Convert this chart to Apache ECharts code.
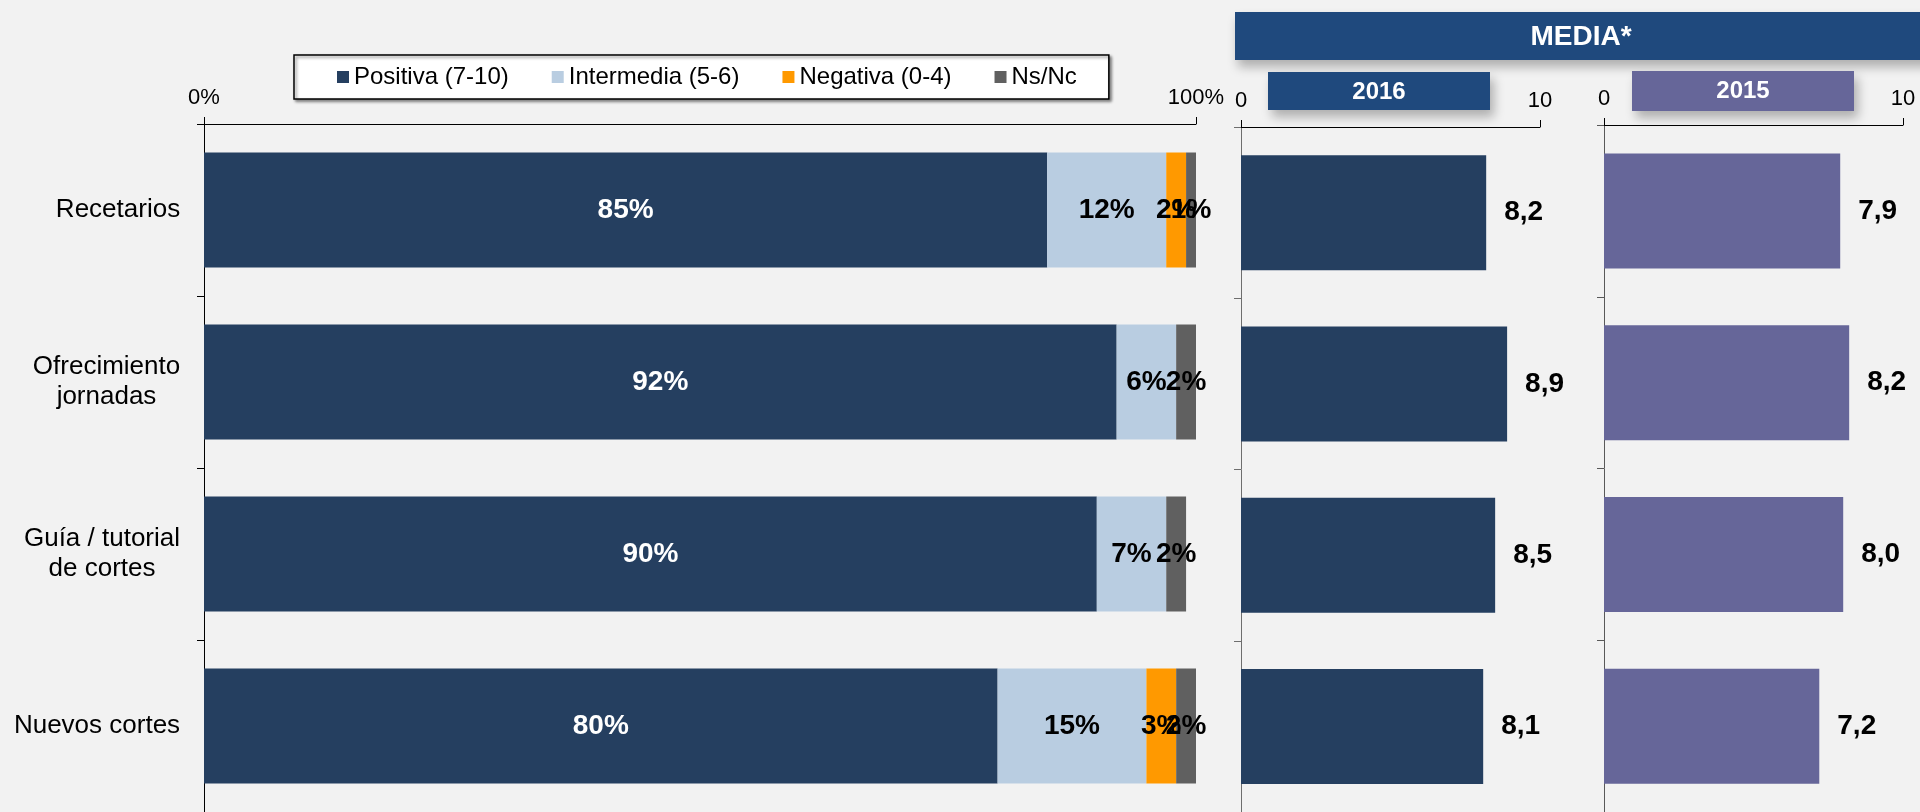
<!DOCTYPE html>
<html>
<head>
<meta charset="utf-8">
<title>Valoración de servicios</title>
<script src="https://cdn.jsdelivr.net/npm/echarts@6/dist/echarts.min.js"></script>
<style>
  html, body { margin: 0; padding: 0; background: #F2F2F2; }
  #chart { width: 1920px; height: 812px; }
</style>
</head>
<body>
<div id="chart"></div>
<script>
// Service categories, top to bottom
const categories = ['Recetarios', 'Ofrecimiento\njornadas', 'Guía / tutorial\nde cortes', 'Nuevos cortes'];

// Rating distribution (%)
const positiva = [85, 92, 90, 80];
const intermedia = [12, 6, 7, 15];
const negativa = [2, 0, 0, 3];
const nsnc = [1, 2, 2, 2];

// Mean score (0-10)
const media2016 = [8.2, 8.9, 8.5, 8.1];
const media2015 = [7.9, 8.2, 8.0, 7.2];

// Legend / series names and axis tick labels
const seriesNames = ['Positiva (7-10)', 'Intermedia (5-6)', 'Negativa (0-4)', 'Ns/Nc'];
const pctTicks = { min: 0, max: 100, step: 100 };
const scoreTicks = { min: 0, max: 10, step: 10 };

const FONT = '"Liberation Sans", Arial, sans-serif';
const colors = {
  positiva: '#253F60',
  intermedia: '#B9CDE1',
  negativa: '#FF9900',
  nsnc: '#606060',
  y2016: '#253F60',
  y2015: '#666699',
  header: '#1F497D'
};

// Multi-line category labels: block right-aligned, lines centred within the block
const catFontSize = 26;
const measure = document.createElement('canvas').getContext('2d');
measure.font = catFontSize + 'px ' + FONT;
const catRich = {};
categories.forEach((c, i) => {
  const w = Math.max.apply(null, c.split('\n').map(s => measure.measureText(s).width));
  catRich['c' + i] = {
    width: Math.ceil(w) + 1, align: 'center', fontSize: catFontSize,
    fontFamily: FONT, color: '#000', lineHeight: 30
  };
});

const chart = echarts.init(document.getElementById('chart'), null, { renderer: 'canvas' });

const pctLabel = (color) => ({
  show: true,
  position: 'inside',
  color: color,
  fontSize: 28,
  fontWeight: 'bold',
  fontFamily: FONT,
  formatter: p => (p.value ? p.value + '%' : '')
});

const scoreLabel = {
  show: true,
  position: 'right',
  distance: 18,
  color: '#000',
  fontSize: 28,
  fontWeight: 'bold',
  fontFamily: FONT,
  formatter: p => p.value.toFixed(1).replace('.', ',')
};

function valueAxis(gridIndex, ticks, suffix) {
  return {
    type: 'value',
    gridIndex: gridIndex,
    position: 'top',
    min: ticks.min,
    max: ticks.max,
    interval: ticks.step,
    axisLine: { show: true, lineStyle: { color: '#000', width: 1 } },
    axisTick: { show: true, length: 7, lineStyle: { color: '#000' } },
    splitLine: { show: false },
    axisLabel: {
      margin: 15,
      fontSize: 22,
      fontFamily: FONT,
      color: '#000',
      formatter: v => v + suffix
    }
  };
}

function catAxis(gridIndex, showLabels, lineColor) {
  return {
    type: 'category',
    gridIndex: gridIndex,
    inverse: true,
    data: categories,
    axisLine: { show: true, lineStyle: { color: lineColor, width: 1 } },
    axisTick: { show: true, length: 7, lineStyle: { color: lineColor } },
    axisLabel: showLabels ? {
      show: true,
      margin: 23,
      align: 'right',
      fontSize: catFontSize,
      fontFamily: FONT,
      color: '#000',
      lineHeight: 30,
      rich: catRich,
      formatter: (value, index) => value.split('\n').map(s => '{c' + index + '|' + s + '}').join('\n')
    } : { show: false }
  };
}

const BAR_H = 115;

const option = {
  backgroundColor: '#F2F2F2',
  animation: false,
  textStyle: { fontFamily: FONT },
  legend: {
    data: seriesNames,
    left: 294,
    top: 55,
    icon: 'rect',
    itemWidth: 12,
    itemHeight: 12,
    itemGap: 43,
    padding: [10, 32, 10, 43],
    backgroundColor: '#FFFFFF',
    borderColor: '#000',
    borderWidth: 1.5,
    borderRadius: 0,
    shadowColor: 'rgba(0,0,0,0.45)',
    shadowBlur: 3,
    shadowOffsetX: 2,
    shadowOffsetY: 2,
    selectedMode: false,
    textStyle: { fontSize: 24, fontFamily: FONT, color: '#000', lineHeight: 24 }
  },
  grid: [
    { left: 204, right: 1920 - 1196, top: 124, bottom: -4, containLabel: false },
    { left: 1241, right: 1920 - 1540, top: 127, bottom: -3, containLabel: false },
    { left: 1604, right: 1920 - 1903, top: 125, bottom: 0, containLabel: false }
  ],
  xAxis: [
    valueAxis(0, pctTicks, '%'),
    valueAxis(1, scoreTicks, ''),
    valueAxis(2, scoreTicks, '')
  ],
  yAxis: [
    catAxis(0, true, '#000'),
    catAxis(1, false, '#6E6E6E'),
    catAxis(2, false, '#595959')
  ],
  series: [
    { name: seriesNames[0], type: 'bar', stack: 'dist', xAxisIndex: 0, yAxisIndex: 0, barWidth: BAR_H,
      data: positiva, itemStyle: { color: colors.positiva }, label: pctLabel('#FFFFFF') },
    { name: seriesNames[1], type: 'bar', stack: 'dist', xAxisIndex: 0, yAxisIndex: 0, barWidth: BAR_H,
      data: intermedia, itemStyle: { color: colors.intermedia }, label: pctLabel('#000') },
    { name: seriesNames[2], type: 'bar', stack: 'dist', xAxisIndex: 0, yAxisIndex: 0, barWidth: BAR_H,
      data: negativa, itemStyle: { color: colors.negativa }, label: pctLabel('#000') },
    { name: seriesNames[3], type: 'bar', stack: 'dist', xAxisIndex: 0, yAxisIndex: 0, barWidth: BAR_H,
      data: nsnc, itemStyle: { color: colors.nsnc }, label: pctLabel('#000') },
    { name: '2016', type: 'bar', xAxisIndex: 1, yAxisIndex: 1, barWidth: BAR_H,
      data: media2016, itemStyle: { color: colors.y2016 }, label: scoreLabel },
    { name: '2015', type: 'bar', xAxisIndex: 2, yAxisIndex: 2, barWidth: BAR_H,
      data: media2015, itemStyle: { color: colors.y2015 }, label: scoreLabel }
  ],
  graphic: [
    // "MEDIA*" banner across the score panels
    { type: 'rect', shape: { x: 1235, y: 12, width: 700, height: 48 },
      style: { fill: colors.header, shadowBlur: 10, shadowOffsetX: 3, shadowOffsetY: 7, shadowColor: 'rgba(0,0,0,0.28)' } },
    { type: 'text', x: 1581, y: 37,
      style: { text: 'MEDIA*', fill: '#FFFFFF', font: 'bold 28px ' + FONT, align: 'center', verticalAlign: 'middle' } },
    // Year headers
    { type: 'rect', shape: { x: 1268, y: 72, width: 222, height: 38 },
      style: { fill: colors.header, shadowBlur: 10, shadowOffsetX: 4, shadowOffsetY: 7, shadowColor: 'rgba(0,0,0,0.28)' } },
    { type: 'text', x: 1379, y: 92,
      style: { text: '2016', fill: '#FFFFFF', font: 'bold 24px ' + FONT, align: 'center', verticalAlign: 'middle' } },
    { type: 'rect', shape: { x: 1632, y: 71, width: 222, height: 40 },
      style: { fill: colors.y2015, shadowBlur: 10, shadowOffsetX: 4, shadowOffsetY: 7, shadowColor: 'rgba(0,0,0,0.28)' } },
    { type: 'text', x: 1743, y: 91,
      style: { text: '2015', fill: '#FFFFFF', font: 'bold 24px ' + FONT, align: 'center', verticalAlign: 'middle' } }
  ]
};

chart.setOption(option);
</script>
</body>
</html>
